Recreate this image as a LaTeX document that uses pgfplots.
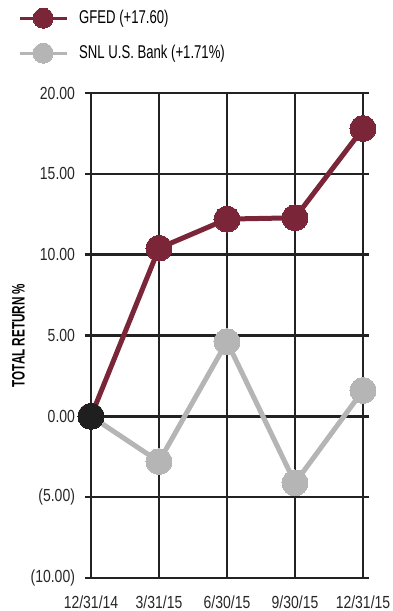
\documentclass[border=0pt]{standalone}
\usepackage{pgfplots}
\pgfplotsset{compat=1.18}
\usepackage{fontspec}
\setmainfont{Liberation Sans}[FakeStretch=0.8]
\newfontfamily\legfont{Liberation Sans}[FakeStretch=0.71]
\newfontfamily\labfont{Liberation Sans}[FakeStretch=0.65]
\definecolor{gfed}{HTML}{7B2538}
\definecolor{snl}{HTML}{B5B5B5}
\definecolor{gridc}{HTML}{222222}
\begin{document}
\fontsize{17.5bp}{20bp}\selectfont
\begin{tikzpicture}
\begin{axis}[
  at={(0,0)}, anchor=south west,
  scale only axis, width=272bp, height=485bp,
  xmin=0, xmax=4, ymin=-10, ymax=20,
  xtick={0,1,2,3,4},
  xticklabels={12/31/14,3/31/15,6/30/15,9/30/15,12/31/15},
  ytick={-10,-5,0,5,10,15,20},
  yticklabels={(10.00),(5.00),0.00,5.00,10.00,15.00,20.00},
  grid=major,
  major grid style={line width=2.4bp, gridc},
  axis line style={line width=2.4bp, gridc},
  xtick style={draw=none},
  ytick style={line width=2.4bp, gridc},
  tick align=outside,
  major tick length=6bp,
  tick label style={font=\fontsize{17.5bp}{20bp}\selectfont, text=black!85},
  yticklabel style={xshift=-4bp},
  xticklabel style={yshift=-6bp},
  ylabel={TOTAL RETURN \%},
  ylabel style={font=\labfont\bfseries\fontsize{18bp}{20bp}\selectfont, at={(axis description cs:-0.267,0.5)}, anchor=center},
  clip=false,
  reverse legend,
  legend style={at={(-73bp,570bp)}, anchor=north west, draw=none, fill=none, inner sep=0pt, row sep=15bp, font=\legfont\fontsize{18.5bp}{20bp}\selectfont, cells={anchor=west},
    /tikz/every odd column/.append style={column sep=9bp}},
  legend cell align=left,
  legend image code/.code={\draw[#1, mark repeat=2, mark phase=2, line width=3bp, mark size=10bp] plot coordinates {(0bp,0bp)(23.5bp,0bp)(47bp,0bp)};},
]
\addplot[color=snl, line width=5bp, mark=*, mark size=13bp, mark options={fill=snl, draw=snl, line width=0pt}]
  coordinates {(0,0) (1,-2.8) (2,4.62) (3,-4.12) (4,1.6)};
\addplot[color=gfed, line width=5bp, mark=*, mark size=13bp, mark options={fill=gfed, draw=gfed, line width=0pt}]
  coordinates {(0,0) (1,10.4) (2,12.2) (3,12.28) (4,17.8)};
\addplot[draw=none, mark=*, mark size=13bp, mark options={fill=black!88, draw=black!88, line width=0pt}, forget plot]
  coordinates {(0,0)};
\legend{SNL U.S. Bank (+1.71\%), GFED (+17.60)}
\end{axis}
\pgfresetboundingbox
\path (-91bp,-33bp) rectangle (302bp,578bp);
\end{tikzpicture}
\end{document}
